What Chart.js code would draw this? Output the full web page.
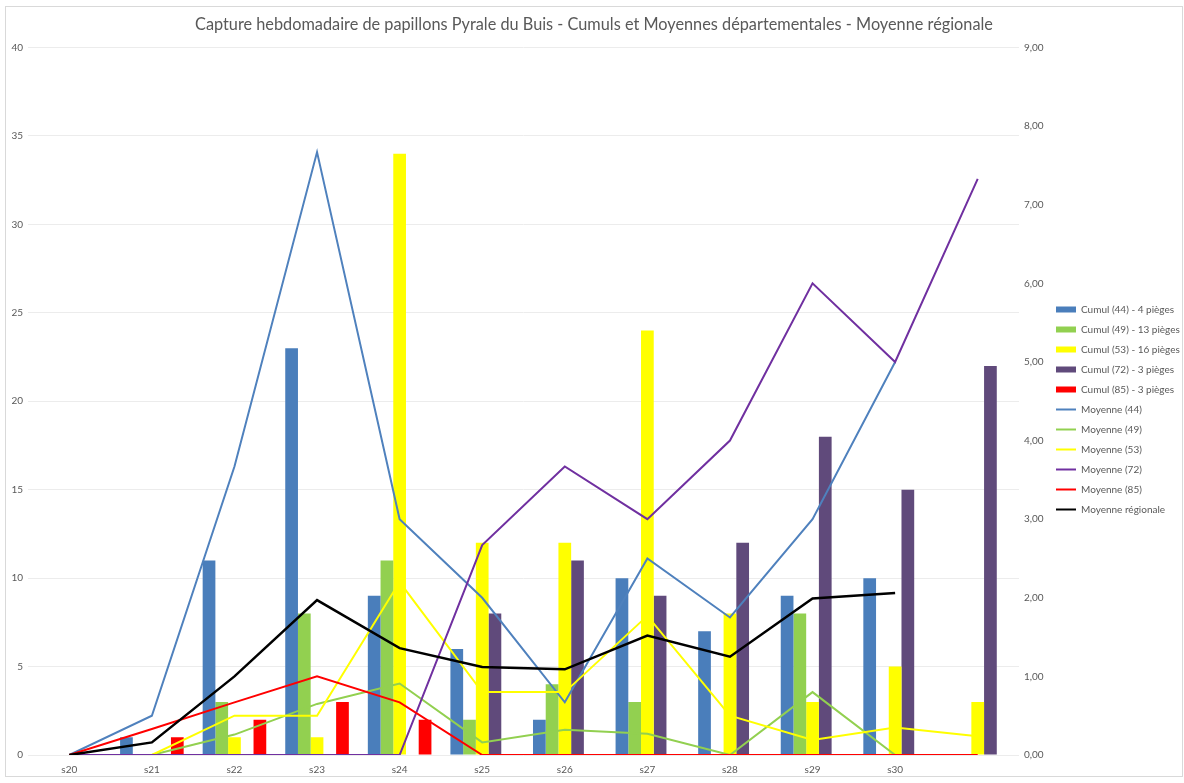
<!DOCTYPE html>
<html lang="fr">
<head>
<meta charset="utf-8">
<title>Pyrale du Buis</title>
<script src="https://cdn.jsdelivr.net/npm/chart.js@4/dist/chart.umd.min.js"></script>
<style>
    html, body { margin: 0; padding: 0; background: #ffffff; }
    #cadre {
        position: absolute;
        left: 5px; top: 6px;
        width: 1178px; height: 771px;
        border: 1px solid #d9d9d9;
        box-sizing: border-box;
    }
</style>
</head>
<body>
<div id="cadre"><canvas id="pyraleChart"></canvas></div>
<script>
// semaines (la derniere colonne n'a pas d'etiquette)
const semaines = ['s20', 's21', 's22', 's23', 's24', 's25', 's26', 's27', 's28', 's29', 's30', ''];

// cumuls hebdomadaires par departement (axe gauche)
const cumul44 = [0, 1, 11, 23, 9, 6, 2, 10, 7, 9, 10, 0];
const cumul49 = [0, 0, 3, 8, 11, 2, 4, 3, 0, 8, 0, 0];
const cumul53 = [0, 0, 1, 1, 34, 12, 12, 24, 8, 3, 5, 3];
const cumul72 = [0, 0, 0, 0, 0, 8, 11, 9, 12, 18, 15, 22];
const cumul85 = [0, 1, 2, 3, 2, 0, 0, 0, 0, 0, 0, 0];

// moyennes par piege (axe droit)
const moyenne44 = [0, 0.5, 3.67, 7.67, 3, 2, 0.67, 2.5, 1.75, 3, 5, null];
const moyenne49 = [null, 0, 0.26, 0.65, 0.91, 0.16, 0.32, 0.27, 0, 0.8, 0, null];
const moyenne53 = [null, 0, 0.5, 0.5, 2.2, 0.8, 0.8, 1.77, 0.5, 0.19, 0.35, 0.24];
const moyenne72 = [0, 0, 0, 0, 0, 2.67, 3.67, 3, 4, 6, 5, 7.33];
const moyenne85 = [0, 0.33, 0.67, 1, 0.67, 0, 0, 0, 0, 0, 0, 0];
const moyenneRegionale = [0, 0.16, 1.0, 1.97, 1.36, 1.12, 1.09, 1.52, 1.25, 1.99, 2.06, null];

const gris = '#595959';
const police = 'Lato, "Open Sans", sans-serif';

function barres(label, data, couleur) {
    return {
        type: 'bar',
        label: label,
        data: data,
        yAxisID: 'y',
        backgroundColor: couleur,
        borderColor: couleur,
        borderWidth: 0,
        categoryPercentage: 0.77,
        barPercentage: 1.0,
        order: 10
    };
}

function ligne(label, data, couleur, epaisseur, ordre) {
    return {
        type: 'line',
        label: label,
        data: data,
        yAxisID: 'y1',
        borderColor: couleur,
        backgroundColor: couleur,
        borderWidth: epaisseur,
        pointRadius: 0,
        tension: 0,
        fill: false,
        spanGaps: false,
        order: ordre
    };
}

const datasets = [
    barres('Cumul (44) - 4 pièges', cumul44, '#4a7ebb'),
    barres('Cumul (49) - 13 pièges', cumul49, '#92d050'),
    barres('Cumul (53) - 16 pièges', cumul53, '#ffff00'),
    barres('Cumul (72) - 3 pièges', cumul72, '#604a7b'),
    barres('Cumul (85) - 3 pièges', cumul85, '#ff0000'),
    ligne('Moyenne (44)', moyenne44, '#4f81bd', 2, 6),
    ligne('Moyenne (49)', moyenne49, '#92d050', 2, 5),
    ligne('Moyenne (53)', moyenne53, '#ffff00', 2, 4),
    ligne('Moyenne (72)', moyenne72, '#7030a0', 2, 3),
    ligne('Moyenne (85)', moyenne85, '#ff0000', 2, 2),
    ligne('Moyenne régionale', moyenneRegionale, '#000000', 2.5, 1)
];

const ctx = document.getElementById('pyraleChart');

new Chart(ctx, {
    data: { labels: semaines, datasets: datasets },
    options: {
        responsive: true,
        maintainAspectRatio: false,
        animation: false,
        layout: { padding: { top: 0, right: 0, bottom: 0, left: 0 } },
        plugins: {
            title: {
                display: true,
                text: 'Capture hebdomadaire de papillons Pyrale du Buis - Cumuls et Moyennes départementales - Moyenne régionale',
                color: gris,
                font: { family: police, size: 16.3, weight: 'normal' },
                padding: { top: 8, bottom: 13 }
            },
            legend: {
                display: true,
                position: 'right',
                maxWidth: 136,
                title: {
                    display: true,
                    text: ' ',
                    font: { size: 10 },
                    padding: { top: 12, bottom: 12 }
                },
                labels: {
                    font: { family: police, size: 10 },
                    color: gris,
                    usePointStyle: true,
                    pointStyleWidth: 20,
                    boxHeight: 6,
                    padding: 10,
                    generateLabels: function(chart) {
                        // rectangle pour les cumuls, trait pour les moyennes
                        return chart.data.datasets.map((ds, i) => ({
                            text: ds.label,
                            fillStyle: ds.type === 'line' ? 'rgba(0,0,0,0)' : ds.backgroundColor,
                            strokeStyle: ds.borderColor,
                            lineWidth: ds.type === 'line' ? 2 : 0,
                            pointStyle: ds.type === 'line' ? 'line' : 'rect',
                            fontColor: gris,
                            hidden: false,
                            datasetIndex: i
                        }));
                    }
                }
            },
            tooltip: { enabled: false }
        },
        scales: {
            x: {
                offset: true,
                grid: { display: false, drawTicks: false },
                border: { display: false },
                ticks: {
                    color: gris,
                    font: { family: police, size: 10 },
                    padding: 9,
                    maxRotation: 0,
                    autoSkip: false
                },
                afterFit: function(scale) { scale.height = 21; }
            },
            y: {
                position: 'left',
                min: 0,
                max: 40,
                ticks: {
                    stepSize: 5,
                    color: gris,
                    font: { family: police, size: 10 },
                    padding: 5
                },
                grid: { color: '#ececec', drawTicks: false },
                border: { display: false },
                afterFit: function(scale) { scale.width = 22; }
            },
            y1: {
                position: 'right',
                min: 0,
                max: 9,
                ticks: {
                    stepSize: 1,
                    color: gris,
                    font: { family: police, size: 10 },
                    padding: 5,
                    callback: function(value) {
                        return value.toFixed(2).replace('.', ',');
                    }
                },
                grid: { drawOnChartArea: false, drawTicks: false },
                border: { display: false },
                afterFit: function(scale) { scale.width = 27; }
            }
        }
    }
});
</script>
</body>
</html>
